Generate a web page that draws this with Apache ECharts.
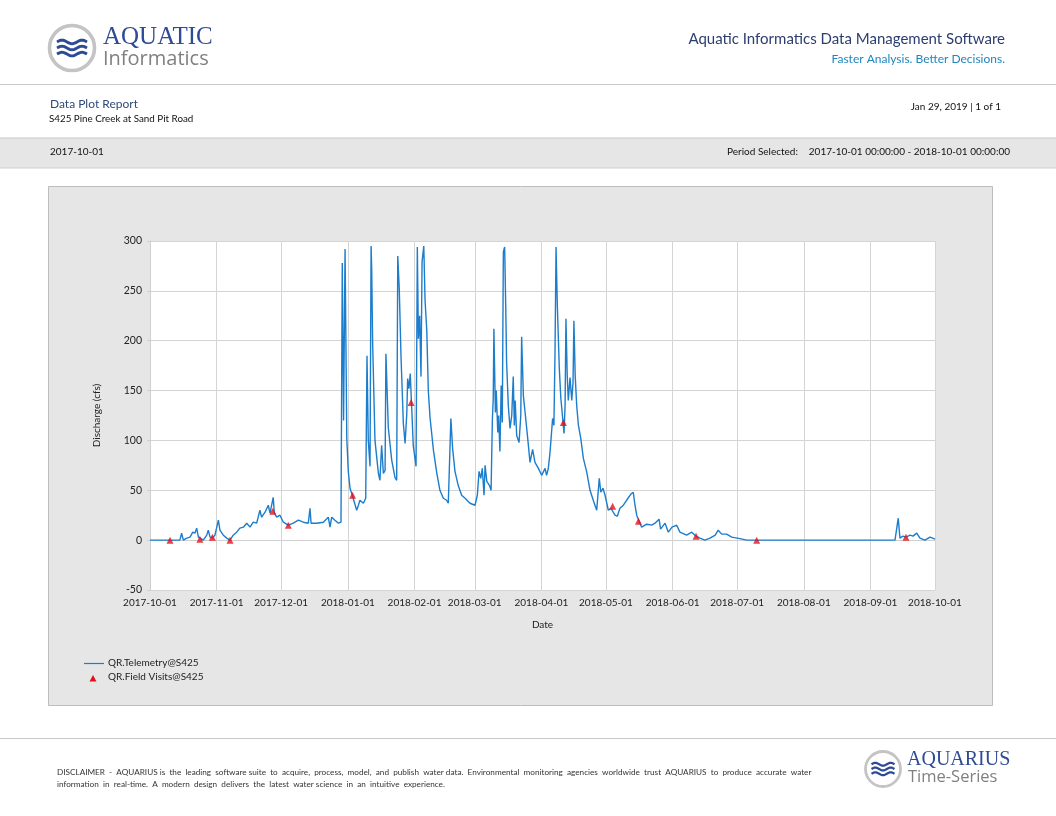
<!DOCTYPE html>
<html>
<head>
<meta charset="utf-8">
<script src="https://cdn.jsdelivr.net/npm/echarts@6/dist/echarts.min.js"></script>
<style>
html,body{margin:0;padding:0;background:#fff;}
#main{width:1056px;height:816px;}
</style>
</head>
<body>
<div id="main"></div>
<script>
// ---- Data ----
// Days since 2017-10-01 00:00 UTC for the telemetry trace
var telemetryDays = [
  0, 9.3, 13.9, 14.7, 15.5, 17.1, 18.6, 19.9, 20.9, 21.7, 22.5, 23.2, 24.8, 26.4, 27.1, 27.9, 29.0, 30.2, 31.8, 32.5,
  34.1, 35.7, 37.2, 38.7, 40.3, 41.8, 43.4, 45.0, 46.5, 48.0, 49.6, 51.1, 51.9, 53.5, 55.0, 55.8, 56.6, 57.3, 57.8, 58.9,
  60.4, 62.0, 64.3, 66.6, 69.0, 71.3, 73.6, 74.4, 74.9, 77.5, 80.6, 82.9, 83.7, 84.5, 86.0, 87.6, 88.8, 89.4, 90.0, 90.7,
  91.5, 92.2, 93.0, 94.2, 96.1, 96.9, 97.6, 99.2, 100.3, 100.9, 101.5, 102.3, 102.8, 103.1, 103.5, 104.6, 106.2, 106.9, 107.7, 108.5,
  109.3, 109.7, 110.8, 112.4, 113.9, 114.7, 115.2, 115.9, 116.7, 117.8, 118.6, 119.4, 119.8, 120.4, 121.0, 121.7, 122.4, 123.7, 124.3, 124.8,
  125.4, 126.0, 126.5, 127.3, 127.9, 128.7, 129.4, 130.2, 131.8, 133.3, 134.8, 136.4, 137.9, 138.7, 139.5, 139.9, 140.7, 141.8, 143.3, 144.9,
  146.5, 148.8, 151.1, 152.2, 153.0, 153.8, 154.5, 155.3, 155.8, 156.6, 157.8, 158.6, 159.2, 159.6, 159.9, 160.6, 161.0, 161.7, 162.1, 162.7,
  163.3, 163.8, 164.3, 164.9, 165.4, 165.8, 166.6, 167.4, 168.2, 168.9, 169.4, 169.8, 170.5, 171.6, 172.4, 172.8, 173.6, 174.4, 175.4, 176.7,
  177.9, 179.0, 180.6, 182.1, 183.7, 184.4, 185.2, 186.0, 186.8, 187.2, 187.8, 188.3, 188.8, 189.4, 190.3, 191.0, 191.9, 192.5, 193.0, 193.4,
  194.0, 194.5, 195.3, 196.1, 196.7, 197.1, 197.7, 198.4, 199.2, 200.3, 201.5, 203.0, 204.6, 206.1, 207.7, 208.9, 209.6, 210.6, 211.6, 213.1,
  214.3, 216.2, 217.3, 218.5, 220.1, 221.6, 223.5, 224.7, 225.5, 226.3, 228.6, 230.9, 233.3, 234.8, 236.7, 237.4, 239.5, 241.0, 242.7, 244.9,
  246.4, 249.5, 251.9, 253.9, 255.7, 258.0, 260.4, 262.8, 264.2, 265.8, 268.1, 270.5, 274.3, 277.5, 282.1, 346.4, 347.3, 347.9, 348.7, 350.1,
  351.5, 353.4, 354.8, 356.5, 358.0, 360.3, 362.7, 365.0
];
// Discharge (cfs) for the telemetry trace
var telemetryCfs = [
  0, 0, 0, 7, 0, 2, 3, 8, 7, 12, 3, 1, 0, 5, 10, 3, 2.5, 5, 20, 10,
  5, 2, 0, 5, 8, 12, 13, 17, 13, 18, 17, 30, 23, 28, 35, 27, 28, 43, 27, 23,
  25, 18, 15, 17, 20, 18, 17, 32, 17, 17, 18, 23, 13, 23, 20, 17, 18, 278, 120, 292,
  102, 69, 52, 44, 30, 35, 40, 37, 42, 185, 100, 74, 295, 270, 200, 100, 67, 60, 95, 67,
  70, 187, 113, 80, 63, 60, 285, 252, 185, 117, 97, 127, 162, 152, 167, 132, 95, 74, 294, 202,
  225, 164, 279, 295, 240, 210, 150, 123, 90, 68, 50, 42, 40, 37, 38, 122, 92, 69, 55, 45,
  42, 37, 35, 45, 69, 62, 72, 45, 75, 59, 55, 50, 122, 142, 212, 128, 150, 108, 125, 89,
  155, 118, 289, 294, 235, 179, 135, 112, 125, 164, 115, 140, 105, 98, 125, 204, 145, 128, 107, 78,
  91, 78, 72, 65, 72, 65, 72, 88, 86, 122, 115, 185, 294, 235, 173, 143, 122, 107, 135, 222,
  165, 140, 163, 140, 158, 220, 165, 135, 115, 102, 82, 69, 50, 40, 30, 62, 48, 52, 45, 30,
  32, 25, 24, 32, 35, 40, 46, 48, 35, 25, 13, 16, 15, 17, 21, 11, 17, 8, 13, 15,
  8, 5, 8, 4, 2, 0, 2, 5, 10, 6, 6, 3, 1.5, 0, 0, 0, 2, 22, 2, 4,
  3, 5, 4, 7, 2, 0, 3, 1
];
// Field visit measurements
var visitDays = [9.3, 23.2, 29.0, 37.2, 57.1, 64.3, 94.2, 121.4, 192.2, 215.1, 227.1, 253.9, 282.1, 351.5];
var visitCfs  = [0, 1, 3, 0, 29, 15, 45, 138, 118, 34, 19, 4, 0, 3];

var yTicks = [-50, 0, 50, 100, 150, 200, 250, 300];
var seriesNames = ['QR.Telemetry@S425', 'QR.Field Visits@S425'];
var periodStart = '2017-10-01';
var periodEnd = '2018-10-01';

// ---- Build ----
var DAY = 86400000;
var START = Date.UTC(2017, 9, 1);
var END = Date.UTC(2018, 9, 1);
function toTime(d) { return START + d * DAY; }
var lineData = telemetryDays.map(function (d, i) { return [toTime(d), telemetryCfs[i]]; });
var visitData = visitDays.map(function (d, i) { return [toTime(d), visitCfs[i]]; });

function pad(n) { return (n < 10 ? '0' : '') + n; }
function fmtDate(v) {
  var dt = new Date(v);
  return dt.getUTCFullYear() + '-' + pad(dt.getUTCMonth() + 1) + '-' + pad(dt.getUTCDate());
}

var FONT = 'Lato, "Open Sans", sans-serif';
var navy = '#2c3e70';

// logo artwork: a wavy stroke drawn as a smooth polyline
function wavePoints(cx, cy, w, amp) {
  var pts = [], n = 24, x0 = cx - w / 2;
  for (var i = 0; i <= n; i++) {
    var t = i / n;
    pts.push([x0 + t * w, cy - amp * Math.sin(t * Math.PI * 3)]);
  }
  return pts;
}

function logo(cx, cy, r, waveW) {
  var els = [
    { type: 'circle', shape: { cx: cx, cy: cy, r: r }, style: { fill: '#fff', stroke: '#c4c4c4', lineWidth: r * 0.16 }, z: 5 }
  ];
  var gap = r * 0.27;
  for (var k = -1; k <= 1; k++) {
    els.push({ type: 'polyline', shape: { points: wavePoints(cx, cy + k * gap, waveW, r * 0.08) },
      style: { fill: null, stroke: '#2d4a94', lineWidth: r * 0.13 }, z: 6 });
  }
  return els;
}

var graphics = [].concat(
  logo(72, 48, 22.5, 30),
  [
    { type: 'text', left: 103, top: 25, style: { text: 'AQUATIC', font: '25px "Liberation Serif", "DejaVu Serif", serif', fill: '#2f4b95' }, z: 5 },
    { type: 'text', left: 103, top: 49, style: { text: 'Informatics', font: '20px "Open Sans", sans-serif', fill: '#808080' }, z: 5 },
    { type: 'text', right: 51, top: 32, style: { text: 'Aquatic Informatics Data Management Software', font: '15px ' + FONT, fill: navy }, z: 5 },
    { type: 'text', right: 51, top: 53, style: { text: 'Faster Analysis. Better Decisions.', font: '12px ' + FONT, fill: '#1f86bd' }, z: 5 },
    { type: 'line', shape: { x1: 0, y1: 84.5, x2: 1056, y2: 84.5 }, style: { stroke: '#c8c8c8', lineWidth: 1.2 }, z: 5 },
    { type: 'text', left: 50, top: 98, style: { text: 'Data Plot Report', font: '12px ' + FONT, fill: '#2f4a7c' }, z: 5 },
    { type: 'text', left: 49, top: 114, style: { text: 'S425 Pine Creek at Sand Pit Road', font: '9.8px ' + FONT, fill: '#111' }, z: 5 },
    { type: 'text', right: 55, top: 102, style: { text: 'Jan 29, 2019 | 1 of 1', font: '10px ' + FONT, fill: '#111' }, z: 5 },
    { type: 'rect', shape: { x: 0, y: 138, width: 1056, height: 30 }, style: { fill: '#e6e6e6' }, z: 1 },
    { type: 'line', shape: { x1: 0, y1: 138, x2: 1056, y2: 138 }, style: { stroke: '#c8c8c8', lineWidth: 1 }, z: 2 },
    { type: 'line', shape: { x1: 0, y1: 168, x2: 1056, y2: 168 }, style: { stroke: '#d0d0d0', lineWidth: 1 }, z: 2 },
    { type: 'text', left: 50, top: 147, style: { text: periodStart, font: '10px ' + FONT, fill: '#111' }, z: 5 },
    { type: 'text', left: 727, top: 147, style: { text: 'Period Selected:', font: '10px ' + FONT, fill: '#111' }, z: 5 },
    { type: 'text', right: 46, top: 147, style: { text: periodStart + ' 00:00:00 - ' + periodEnd + ' 00:00:00', font: '10px ' + FONT, fill: '#111' }, z: 5 },
    { type: 'rect', shape: { x: 48.5, y: 186.5, width: 944, height: 519 }, style: { fill: '#e6e6e6', stroke: '#bdbdbd', lineWidth: 1 }, z: -10 },
    { type: 'line', shape: { x1: 84, y1: 663.5, x2: 104, y2: 663.5 }, style: { stroke: '#1c7dcc', lineWidth: 1.2 }, z: 5 },
    { type: 'text', left: 108, top: 658, style: { text: seriesNames[0], font: '10px ' + FONT, fill: '#222' }, z: 5 },
    { type: 'polygon', shape: { points: [[93, 675], [96.5, 681.5], [89.5, 681.5]] }, style: { fill: '#e3101b' }, z: 5 },
    { type: 'text', left: 108, top: 672, style: { text: seriesNames[1], font: '10px ' + FONT, fill: '#222' }, z: 5 },
    { type: 'line', shape: { x1: 0, y1: 738.5, x2: 1056, y2: 738.5 }, style: { stroke: '#c8c8c8', lineWidth: 1.2 }, z: 5 },
    { type: 'text', left: 57, top: 768, style: { text: 'DISCLAIMER  -  AQUARIUS is  the  leading  software suite  to  acquire,  process,  model,  and  publish  water data.  Environmental  monitoring  agencies  worldwide  trust  AQUARIUS  to  produce  accurate  water', font: '8.2px ' + FONT, fill: '#333' }, z: 5 },
    { type: 'text', left: 57, top: 780, style: { text: 'information  in  real-time.  A  modern  design  delivers  the  latest  water science  in  an  intuitive  experience.', font: '8.2px ' + FONT, fill: '#333' }, z: 5 }
  ],
  logo(883, 769, 17.5, 23),
  [
    { type: 'text', left: 907, top: 750, style: { text: 'AQUARIUS', font: '20px "Liberation Serif", "DejaVu Serif", serif', fill: '#2f4b95' }, z: 5 },
    { type: 'text', left: 908, top: 769, style: { text: 'Time-Series', font: '16.5px "Open Sans", sans-serif', fill: '#808080' }, z: 5 }
  ]
);

var chart = echarts.init(document.getElementById('main'), null, { renderer: 'canvas' });
chart.setOption({
  backgroundColor: '#ffffff',
  animation: false,
  useUTC: true,
  textStyle: { fontFamily: FONT },
  graphic: { elements: graphics },
  grid: { left: 150, top: 241, width: 785, height: 349, show: true, backgroundColor: '#ffffff', borderWidth: 0 },
  xAxis: {
    type: 'time',
    min: START,
    max: END,
    splitNumber: 12,
    minInterval: 28 * DAY,
    maxInterval: 31 * DAY,
    name: 'Date',
    nameLocation: 'middle',
    nameGap: 30,
    nameTextStyle: { fontSize: 10, color: '#222', fontFamily: FONT },
    axisLine: { show: true, lineStyle: { color: '#d0d0d0' } },
    axisTick: { show: false },
    splitLine: { show: true, lineStyle: { color: '#d4d4d4', width: 1 } },
    axisLabel: {
      formatter: function (v) { return fmtDate(v); },
      fontSize: 10, color: '#222', margin: 8, showMinLabel: true, showMaxLabel: true, hideOverlap: false
    }
  },
  yAxis: {
    type: 'value',
    min: yTicks[0],
    max: yTicks[yTicks.length - 1],
    interval: 50,
    name: 'Discharge (cfs)',
    nameLocation: 'middle',
    nameGap: 48,
    nameRotate: 90,
    nameTextStyle: { fontSize: 10, color: '#222', fontFamily: FONT },
    axisLine: { show: true, lineStyle: { color: '#cfcfcf' } },
    axisTick: { show: true, length: 3, lineStyle: { color: '#cfcfcf' } },
    splitLine: { show: true, lineStyle: { color: '#d4d4d4', width: 1 } },
    axisLabel: { fontSize: 10.5, color: '#222', margin: 8 }
  },
  series: [
    {
      name: seriesNames[0],
      type: 'line',
      data: lineData,
      showSymbol: false,
      symbol: 'none',
      lineStyle: { color: '#1c7dcc', width: 1.4 },
      z: 3
    },
    {
      name: seriesNames[1],
      type: 'scatter',
      data: visitData,
      symbol: 'triangle',
      symbolSize: 7,
      itemStyle: { color: '#e3101b' },
      z: 4
    }
  ]
});
</script>
</body>
</html>
